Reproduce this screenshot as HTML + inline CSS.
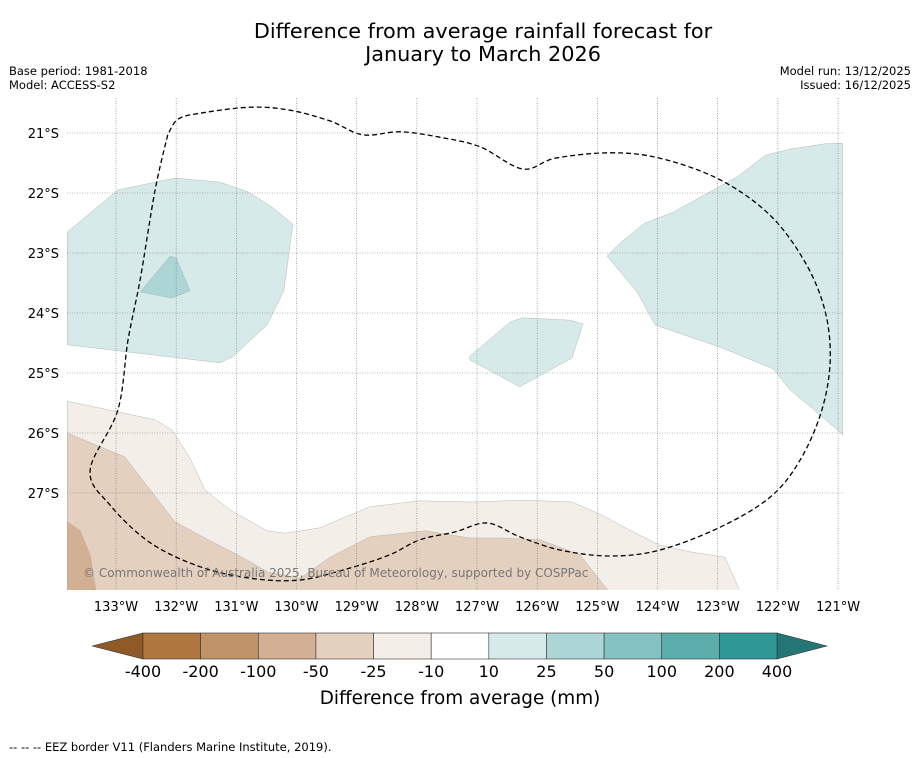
<!DOCTYPE html>
<html><head><meta charset="utf-8"><style>
body{margin:0;background:#fff;width:919px;height:758px;overflow:hidden;font-family:"DejaVu Sans","Liberation Sans",sans-serif;}
svg{position:absolute;left:0;top:0}
</style></head><body>
<svg id="s" width="919" height="758" xmlns="http://www.w3.org/2000/svg">
<rect width="919" height="758" fill="#fff"/>
<text x="483" y="38" text-anchor="middle" font-size="20.8" fill="#000">Difference from average rainfall forecast for</text>
<text x="483" y="61" text-anchor="middle" font-size="20.8" fill="#000">January to March 2026</text>
<text x="9" y="75" font-size="11.5">Base period: 1981-2018</text>
<text x="9" y="89" font-size="11.5">Model: ACCESS-S2</text>
<text x="911" y="75" font-size="11.5" text-anchor="end">Model run: 13/12/2025</text>
<text x="911" y="89" font-size="11.5" text-anchor="end">Issued: 16/12/2025</text>
<defs><clipPath id="mc"><rect x="67" y="98" width="776" height="492"/></clipPath></defs>
<g id="map" clip-path="url(#mc)"></g>
<g id="grid"></g>
<text x="83" y="577" font-size="12" fill="#777">© Commonwealth of Australia 2025, Bureau of Meteorology, supported by COSPPac</text>
<g id="cbar"></g>
<text x="460" y="704" text-anchor="middle" font-size="18.4">Difference from average (mm)</text>
<text x="9" y="751" font-size="11.5">--  --  -- EEZ border V11 (Flanders Marine Institute, 2019).</text>
</svg>
<script>
const lonTicks=[133,132,131,130,129,128,127,126,125,124,123,122,121];
const latTicks=[21,22,23,24,25,26,27];
const cbLabels=["-400","-200","-100","-50","-25","-10","10","25","50","100","200","400"];
const cbColors=["#b07840","#c09469","#d3b093","#e4d0bf","#f3eee8","#ffffff","#d6eae9","#acd6d5","#84c3c1","#5badac","#2f9795"];
const polyLightBrown=[[133.81,25.47],[133.1,25.62],[132.35,25.78],[132.07,25.95],[131.77,26.42],[131.52,26.95],[131.11,27.28],[130.49,27.63],[130.19,27.67],[129.61,27.58],[129.19,27.4],[128.78,27.23],[127.95,27.13],[127.12,27.15],[126.2,27.12],[125.42,27.15],[124.96,27.35],[124.46,27.62],[123.96,27.87],[123.46,27.98],[122.88,28.07],[122.6,28.7],[133.81,28.7]];
const polyMidBrown=[[133.81,26.0],[132.85,26.4],[132.43,26.95],[132.02,27.48],[131.52,27.75],[130.94,28.05],[130.47,28.32],[129.94,28.42],[129.44,28.07],[128.78,27.73],[127.86,27.63],[127.12,27.75],[126.62,27.75],[125.95,27.78],[125.29,28.03],[124.76,28.7],[133.81,28.7]];
const polyDarkBrown=[[133.81,27.48],[133.6,27.62],[133.43,28.03],[133.32,28.7],[133.81,28.7]];
const polyTealLeft=[[133.81,22.65],[132.97,21.95],[132.02,21.75],[131.27,21.82],[130.81,21.98],[130.41,22.23],[130.06,22.52],[130.21,23.63],[130.49,24.2],[131.06,24.73],[131.27,24.83],[133.81,24.53]];
const polyTealSmall=[[132.6,23.65],[132.1,23.05],[132.0,23.08],[131.77,23.63],[132.07,23.75]];
const polyTealRight=[[124.84,23.05],[124.62,22.83],[124.21,22.5],[123.76,22.33],[123.29,22.07],[122.66,21.72],[122.21,21.37],[121.8,21.27],[121.22,21.18],[120.92,21.17],[120.92,26.03],[121.38,25.63],[121.8,25.28],[122.08,24.93],[122.96,24.57],[124.04,24.2],[124.34,23.65]];
const polyTealMid=[[127.12,24.72],[126.45,24.15],[126.25,24.08],[125.45,24.12],[125.24,24.18],[125.42,24.75],[126.29,25.23],[127.12,24.78]];
const eezLine=[[132.14,21.03],[132.35,21.95],[132.6,23.45],[132.8,24.45],[132.97,25.62],[133.43,26.62],[133.1,27.2],[132.43,27.83],[131.6,28.23],[130.77,28.42],[129.94,28.45],[129.11,28.25],[128.45,28.03],[127.95,27.78],[127.37,27.65],[126.83,27.5],[126.29,27.73],[125.62,27.95],[124.79,28.05],[123.96,27.95],[122.96,27.57],[122.13,27.07],[121.63,26.45],[121.27,25.62],[121.13,24.78],[121.22,23.95],[121.55,23.15],[122.13,22.37],[122.96,21.78],[123.96,21.42],[124.79,21.33],[125.7,21.42],[126.24,21.6],[126.95,21.23],[127.62,21.07],[128.28,20.98],[128.9,21.03],[129.44,20.8],[130.11,20.62],[130.77,20.57],[131.6,20.67],[131.97,20.77],[132.14,21.03]];
const NS="http://www.w3.org/2000/svg";
const X=lon=>116+(133-lon)*60.17;
const Y=lat=>133+(lat-21)*60;
const map=document.getElementById('map'),grid=document.getElementById('grid'),cb=document.getElementById('cbar');
function mk(t,a,p){const e=document.createElementNS(NS,t);for(const k in a)e.setAttribute(k,a[k]);p.appendChild(e);return e;}
function poly(pts,fill,name){const e=mk('polygon',{points:pts.map(p=>X(p[0])+','+Y(p[1])).join(' '),fill:fill,stroke:'#aaa','stroke-width':0.4},map);

}
poly(polyLightBrown,cbColors[4],'region-minus25-minus10');
poly(polyMidBrown,cbColors[3],'region-minus50-minus25');
poly(polyDarkBrown,cbColors[2],'region-minus100-minus50');
poly(polyTealLeft,cbColors[6],'region-10-25-west');
poly(polyTealSmall,cbColors[7],'region-25-50-west');
poly(polyTealRight,cbColors[6],'region-10-25-east');
poly(polyTealMid,cbColors[6],'region-10-25-central');
function smooth(pts){const P=pts.map(p=>[X(p[0]),Y(p[1])]);let d='M'+P[0][0]+','+P[0][1];
for(let i=0;i<P.length-1;i++){const p0=P[Math.max(i-1,0)],p1=P[i],p2=P[i+1],p3=P[Math.min(i+2,P.length-1)];
const c1=[p1[0]+(p2[0]-p0[0])/6,p1[1]+(p2[1]-p0[1])/6],c2=[p2[0]-(p3[0]-p1[0])/6,p2[1]-(p3[1]-p1[1])/6];
d+=` C${c1[0]},${c1[1]} ${c2[0]},${c2[1]} ${p2[0]},${p2[1]}`;}return d;}
const eez=mk('path',{d:smooth(eezLine),fill:'none',stroke:'#000','stroke-width':1.3,'stroke-dasharray':'5,3'},map);


lonTicks.forEach(l=>{const x=X(l);
const g=mk('line',{x1:x,x2:x,y1:98,y2:590,stroke:'#777','stroke-width':0.6,'stroke-dasharray':'1,1.5'},grid);


const t=mk('text',{x:x,y:611,'text-anchor':'middle','font-size':13},grid);t.textContent=l+'°W';

});
latTicks.forEach(l=>{const y=Y(l);
const g=mk('line',{x1:67,x2:843,y1:y,y2:y,stroke:'#777','stroke-width':0.6,'stroke-dasharray':'1,1.5'},grid);


const t=mk('text',{x:59,y:y+5,'text-anchor':'end','font-size':13},grid);t.textContent=l+'°S';

});
const x0=143,w=(777-143)/cbColors.length,y0=633,h=26;
const lt=mk('polygon',{points:`92,646 ${x0},${y0} ${x0},${y0+h}`,fill:'#8f5a27',stroke:'#333','stroke-width':0.6},cb);


const rt=mk('polygon',{points:`827,646 777,${y0} 777,${y0+h}`,fill:'#237673',stroke:'#333','stroke-width':0.6},cb);


cbColors.forEach((c,i)=>{const r=mk('rect',{x:x0+i*w,y:y0,width:w,height:h,fill:c,stroke:'#333','stroke-width':0.6},cb);

});
cbLabels.forEach((s,i)=>{const t=mk('text',{x:x0+i*w,y:677,'text-anchor':'middle','font-size':16},cb);t.textContent=s;

});
</script>
</body></html>
